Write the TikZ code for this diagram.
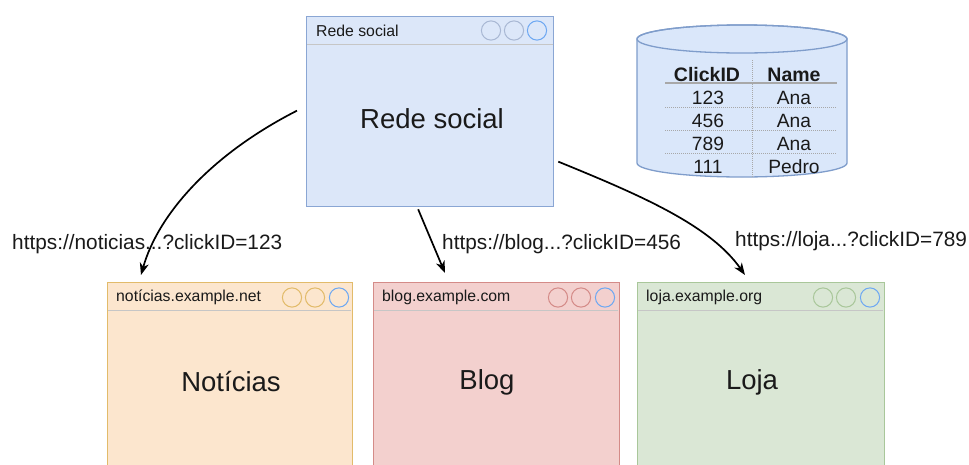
\documentclass[tikz,border=0pt]{standalone}
\usepackage{fontspec}
\setmainfont{Liberation Sans}
\usetikzlibrary{arrows.meta}
\definecolor{bluefill}{HTML}{DCE7F9}
\definecolor{bluestroke}{HTML}{8AA6D4}
\definecolor{bluecirc}{HTML}{A9B8D4}
\definecolor{orfill}{HTML}{FCE6CE}
\definecolor{orstroke}{HTML}{E2BB6A}
\definecolor{redfill}{HTML}{F3D0CE}
\definecolor{redstroke}{HTML}{D48B88}
\definecolor{grfill}{HTML}{DAE7D5}
\definecolor{grstroke}{HTML}{A9C79A}
\definecolor{btnblue}{HTML}{6EA8F2}
\definecolor{sepgray}{HTML}{C6C6C6}
\definecolor{txt}{HTML}{1A1A1A}
\definecolor{cylfill}{HTML}{DAE7FA}
\definecolor{cylstroke}{HTML}{7F9DCB}
\definecolor{tabgray}{HTML}{A8A8A8}
\tikzset{
  win/.style={draw, line width=1.3pt, rectangle, inner sep=0pt, anchor=north west},
  sep/.style={draw=sepgray, line width=1pt},
  btn/.style={line width=1pt},
  wtitle/.style={anchor=west, inner sep=0pt, text=txt, font=\fontsize{15.8}{18}\selectfont},
  bigtxt/.style={inner sep=0pt, text=txt, font=\fontsize{27.5}{32}\selectfont},
  url/.style={anchor=west, inner sep=0pt, text=txt, font=\fontsize{20.8}{24}\selectfont},
  link/.style={line width=1.7pt, -{Stealth[length=12pt,width=9pt,inset=3.5pt]}},
  tab/.style={inner sep=0pt, text=txt, font=\fontsize{19.2}{22}\selectfont},
  tabh/.style={inner sep=0pt, text=txt, font=\bfseries\fontsize{19.5}{22}\selectfont},
  dotline/.style={draw=tabgray, line width=0.9pt, dash pattern=on 1pt off 1pt},
}
\begin{document}
\begin{tikzpicture}[x=1pt,y=-1pt]
\useasboundingbox (0,0) rectangle (969,464);
\clip (0,0) rectangle (969,464);
\fill[white] (0,0) rectangle (969,464);

% ---- top window
\node[win, draw=bluestroke, fill=bluefill, minimum width=247pt, minimum height=190pt] (rs) at (306,16) {};
\draw[sep] (307,44) -- (553,44);
\draw[btn, draw=bluecirc] (491,30.5) circle[radius=9.6pt];
\draw[btn, draw=bluecirc] (514,30.5) circle[radius=9.6pt];
\draw[btn, draw=btnblue] (537,30.5) circle[radius=9.6pt];
\node[wtitle] (rst) at (316,31) {Rede social};
\node[bigtxt] (rsb) at (432,119) {Rede social};

% ---- noticias
\node[win, draw=orstroke, fill=orfill, minimum width=245pt, minimum height=200pt] (nt) at (107,282) {};
\draw[sep] (108,310) -- (351,310);
\draw[btn, draw=orstroke] (292,297.5) circle[radius=9.6pt];
\draw[btn, draw=orstroke] (315,297.5) circle[radius=9.6pt];
\draw[btn, draw=btnblue] (339,297.5) circle[radius=9.6pt];
\node[wtitle] (ntt) at (116,297) {notícias.example.net};
\node[bigtxt] (ntb) at (231,382) {Notícias};

% ---- blog
\node[win, draw=redstroke, fill=redfill, minimum width=246pt, minimum height=200pt] (bl) at (373,282) {};
\draw[sep] (374,310) -- (618,310);
\draw[btn, draw=redstroke] (558,297.5) circle[radius=9.6pt];
\draw[btn, draw=redstroke] (581,297.5) circle[radius=9.6pt];
\draw[btn, draw=btnblue] (605,297.5) circle[radius=9.6pt];
\node[wtitle] (blt) at (382,297) {blog.example.com};
\node[bigtxt] (blb) at (487,382) {Blog};

% ---- loja
\node[win, draw=grstroke, fill=grfill, minimum width=247pt, minimum height=200pt] (lj) at (637,282) {};
\draw[sep] (638,310) -- (883,310);
\draw[btn, draw=grstroke] (823,297.5) circle[radius=9.6pt];
\draw[btn, draw=grstroke] (846,297.5) circle[radius=9.6pt];
\draw[btn, draw=btnblue] (870,297.5) circle[radius=9.6pt];
\node[wtitle] (ljt) at (646,297) {loja.example.org};
\node[bigtxt] (ljb) at (752,382) {Loja};

% ---- database cylinder
\coordinate (cyl) at (742,39);
\filldraw[fill=cylfill, draw=cylstroke, line width=1.3pt]
  (637,39) -- (637,163) arc[start angle=180, end angle=360, x radius=105pt, y radius=14pt]
  -- (847,39) arc[start angle=0, end angle=180, x radius=105pt, y radius=14pt] -- cycle;
\draw[draw=cylstroke, line width=1.3pt] (cyl) ellipse[x radius=105pt, y radius=14pt];

\draw[dotline] (752,60) -- (752,177);
\draw[draw=tabgray, line width=1.6pt] (665,83) -- (837,83);
\draw[dotline] (665,107) -- (837,107);
\draw[dotline] (665,130) -- (837,130);
\draw[dotline] (665,153) -- (837,153);
\node[tabh] (h1) at (707,75) {ClickID};
\node[tabh] (h2) at (794,75) {Name};
\node[tab] (a1) at (708,98) {123};
\node[tab] (b1) at (794,98) {Ana};
\node[tab] (a2) at (708,121) {456};
\node[tab] (b2) at (794,121) {Ana};
\node[tab] (a3) at (708,144) {789};
\node[tab] (b3) at (794,144) {Ana};
\node[tab] (a4) at (708,167) {111};
\node[tab] (b4) at (794,167) {Pedro};

% ---- labels
\node[url] (u1) at (12,244) {https://noticias...?clickID=123};
\node[url] (u2) at (442,244) {https://blog...?clickID=456};
\node[url] (u3) at (735,241) {https://loja...?clickID=789};

% ---- arrows
\draw[link] ([xshift=-9pt,yshift=1pt]rs.west) .. controls (210,155) and (158,215) .. ([xshift=34pt,yshift=7pt]nt.north west);
\draw[link] ([xshift=-12pt,yshift=-2pt]rs.south) -- ([xshift=72pt,yshift=9pt]bl.north west);
\draw[link] ([xshift=4pt,yshift=-50pt]rs.east) .. controls (640,195) and (710,225) .. ([xshift=108pt,yshift=7pt]lj.north west);
\end{tikzpicture}
\end{document}
